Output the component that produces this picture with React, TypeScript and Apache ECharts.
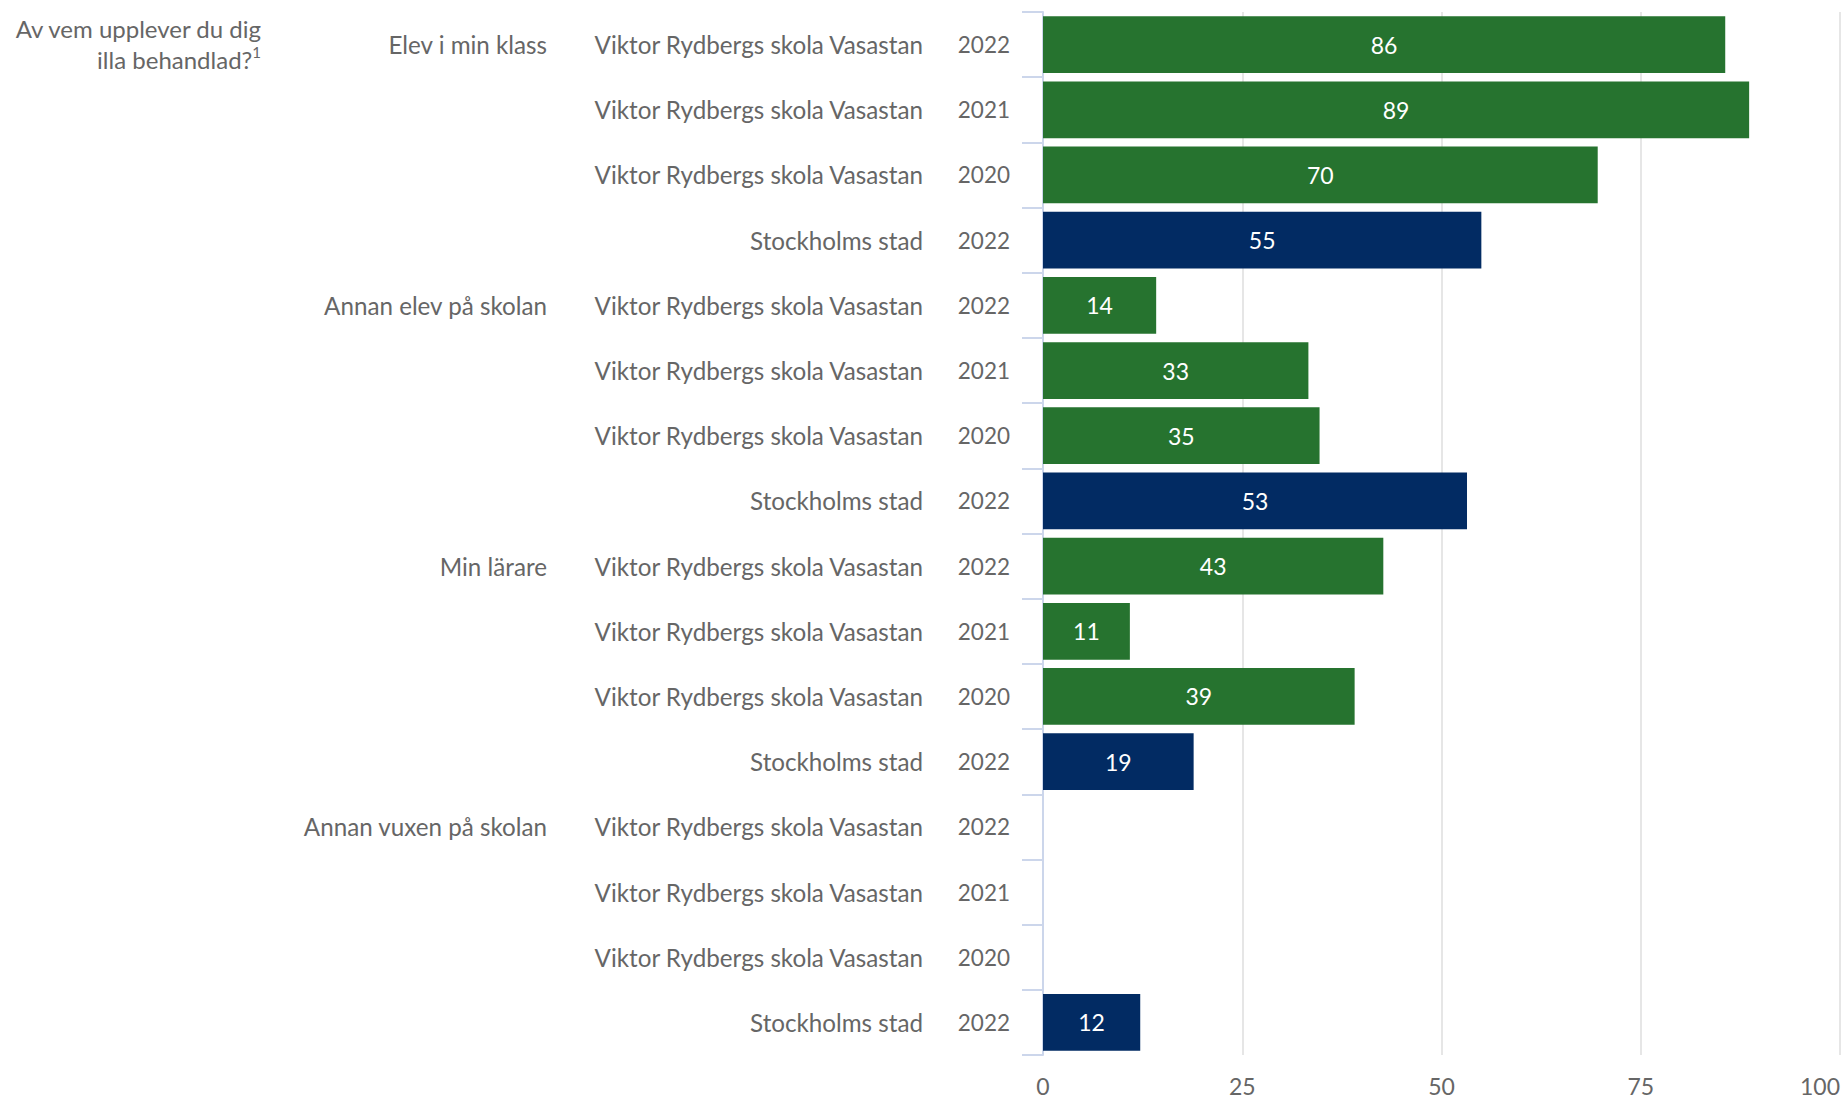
import React, { useEffect, useRef } from "react";
import * as echarts from "echarts";

const groups = ["Elev i min klass", "Annan elev på skolan", "Min lärare", "Annan vuxen på skolan"];
const units = [
  "Viktor Rydbergs skola Vasastan",
  "Viktor Rydbergs skola Vasastan",
  "Viktor Rydbergs skola Vasastan",
  "Stockholms stad",
];
const years = ["2022", "2021", "2020", "2022"];
const values = [85.6, 88.6, 69.6, 55.0, 14.2, 33.3, 34.7, 53.2, 42.7, 10.9, 39.1, 18.9, null, null, null, 12.2];
const xTicks = [0, 25, 50, 75, 100];
const titleLines = ["Av vem upplever du dig", "illa behandlad?"];
const footnote = "1";
const cityName = "Stockholms stad";

const GREEN = "#26732f";
const NAVY = "#022b63";
const GRAY = "#666666";
const FONT = "Lato, 'Noto Sans', sans-serif";

export default function App() {
  const ref = useRef<HTMLDivElement>(null);
  useEffect(() => {
    if (!ref.current) return;
    const chart = echarts.init(ref.current, null, { renderer: "svg" });
    const rows = groups.flatMap((g) =>
      units.map((u, j) => ({ group: j === 0 ? g : "", unit: u, year: years[j] }))
    );
    const idx = rows.map((_, i) => String(i));
    const labelBase = { interval: 0, color: GRAY, fontSize: 24.2, fontFamily: FONT };
    chart.setOption({
      animation: false,
      grid: { left: 1043, right: 2, top: 12, bottom: 43, containLabel: false },
      xAxis: {
        type: "value",
        min: xTicks[0],
        max: xTicks[xTicks.length - 1],
        interval: xTicks[1] - xTicks[0],
        axisLine: { show: false },
        axisTick: { show: false },
        splitLine: { show: true, lineStyle: { color: "#e6e6e6", width: 2 } },
        axisLabel: { color: GRAY, fontSize: 23, fontFamily: FONT, margin: 19, alignMaxLabel: "right" },
      },
      yAxis: [
        {
          type: "category",
          inverse: true,
          data: idx,
          position: "left",
          axisLine: { show: true, lineStyle: { color: "#ccd6eb", width: 2 } },
          axisTick: { show: true, length: 21, lineStyle: { color: "#ccd6eb", width: 2 } },
          axisLabel: { ...labelBase, fontSize: 22.5, margin: 33, formatter: (_v: string, i: number) => rows[i].year },
        },
        {
          type: "category",
          inverse: true,
          data: idx,
          position: "left",
          offset: 120,
          axisLine: { show: false },
          axisTick: { show: false },
          axisLabel: { ...labelBase, margin: 0, formatter: (_v: string, i: number) => rows[i].unit },
        },
        {
          type: "category",
          inverse: true,
          data: idx,
          position: "left",
          offset: 496,
          axisLine: { show: false },
          axisTick: { show: false },
          axisLabel: { ...labelBase, margin: 0, formatter: (_v: string, i: number) => rows[i].group },
        },
      ],
      series: [
        {
          type: "bar",
          yAxisIndex: 0,
          data: values,
          barCategoryGap: "13%",
          itemStyle: {
            color: (p: any) => (rows[p.dataIndex].unit === cityName ? NAVY : GREEN),
            borderWidth: 0,
          },
          label: {
            show: true,
            position: "inside",
            color: "#ffffff",
            fontSize: 23,
            fontFamily: FONT,
            formatter: (p: any) => String(Math.round(p.value)),
          },
        },
      ],
      graphic: [
        {
          type: "text",
          x: 261,
          y: 13,
          style: {
            text: `{a|${titleLines[0]}}\n{a|${titleLines[1]}}{s|${footnote}}`,
            align: "right",
            verticalAlign: "top",
            rich: {
              a: { fontSize: 24, fontFamily: FONT, fill: GRAY, lineHeight: 31 },
              s: { fontSize: 15, fontFamily: FONT, fill: GRAY, lineHeight: 31, verticalAlign: "top" },
            },
          },
        },
      ],
    });
    return () => chart.dispose();
  }, []);
  return (
    <div
      ref={ref}
      style={{ position: "absolute", left: 0, top: 0, width: 1843, height: 1098, background: "#ffffff" }}
    />
  );
}
